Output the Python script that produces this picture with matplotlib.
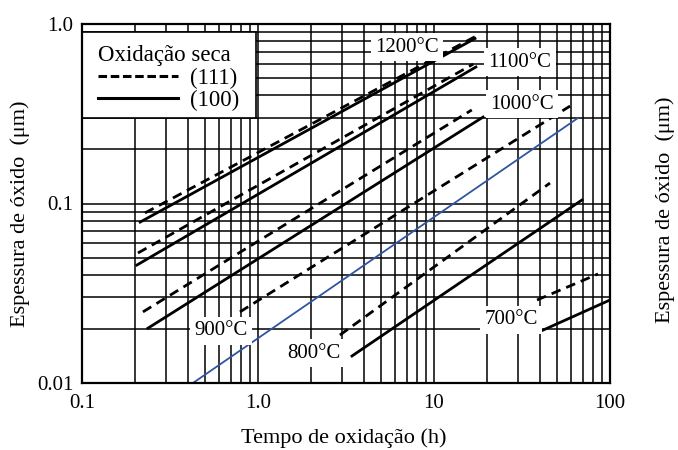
import matplotlib
matplotlib.use("Agg")
import matplotlib.pyplot as plt
from matplotlib.lines import Line2D
from matplotlib.patches import Rectangle
from matplotlib.ticker import FixedLocator, FixedFormatter, LogLocator, NullFormatter

plt.rcParams['font.family'] = ['Liberation Serif', 'DejaVu Serif']

# ---- data ----
temps = ['1200°C', '1100°C', '1000°C', '900°C', '800°C', '700°C']
# (111) dashed lines: (start, end)
time_111 = [(0.228, 17.1), (0.208, 16.7), (0.222, 16.4), (0.79, 59.3), (2.92, 45.6), (38.5, 85.5)]
thick_111 = [(0.0886, 0.85), (0.053, 0.598), (0.0249, 0.332), (0.0249, 0.349), (0.0185, 0.130), (0.029, 0.0405)]
# (100) solid lines: (start, end)
time_100 = [(0.214, 17.1), (0.205, 17.3), (0.237, 19.0), (0.427, 65.8), (3.42, 69.3), (41.6, 100.0)]
thick_100 = [(0.0788, 0.83), (0.0454, 0.576), (0.0202, 0.303), (0.01, 0.2995), (0.01414, 0.1046), (0.0197, 0.029)]
# temperature label positions (time, thickness)
label_x = [7.0, 30.8, 31.6, 0.616, 2.08, 27.4]
label_y = [0.744, 0.614, 0.358, 0.0195, 0.01469, 0.02244]

xticks = [0.1, 1.0, 10, 100]
xticklabels = ['0.1', '1.0', '10', '100']
yticks = [0.01, 0.1, 1.0]
yticklabels = ['0.01', '0.1', '1.0']

fig = plt.figure(figsize=(6.78, 4.5), dpi=100)
ax = fig.add_axes([82/678, 1-383/450, (610-82)/678, (383-24)/450])
ax.set_xscale('log')
ax.set_yscale('log')
ax.set_xlim(0.1, 100)
ax.set_ylim(0.01, 1.0)

ax.xaxis.set_major_locator(FixedLocator(xticks))
ax.xaxis.set_major_formatter(FixedFormatter(xticklabels))
ax.yaxis.set_major_locator(FixedLocator(yticks))
ax.yaxis.set_major_formatter(FixedFormatter(yticklabels))
ax.xaxis.set_minor_locator(LogLocator(base=10, subs=range(2, 10)))
ax.yaxis.set_minor_locator(LogLocator(base=10, subs=range(2, 10)))
ax.xaxis.set_minor_formatter(NullFormatter())
ax.yaxis.set_minor_formatter(NullFormatter())
ax.tick_params(which='both', length=0)
ax.tick_params(axis='x', pad=8, labelsize=15)
ax.tick_params(axis='y', pad=6, labelsize=15)
ax.grid(True, which='both', color='black', lw=1.1, zorder=1)
ax.set_axisbelow(True)
for s in ax.spines.values():
    s.set_linewidth(1.6)
    s.set_zorder(6)

for i in range(len(temps)):
    ax.plot(time_111[i], thick_111[i], color='black', lw=2.0, ls=(0, (3.5, 2.2)),
            solid_capstyle='butt', dash_capstyle='butt', zorder=4)
    color = '#2f55a0' if temps[i] == '900°C' else 'black'
    lw = 1.3 if temps[i] == '900°C' else 2.0
    ax.plot(time_100[i], thick_100[i], color=color, lw=lw, zorder=4)

for i, t in enumerate(temps):
    ax.text(label_x[i], label_y[i], t, fontsize=15, ha='center', va='center', zorder=5,
            bbox=dict(facecolor='white', edgecolor='none', pad=3))

# legend box
ax.add_patch(Rectangle((0.1, 0.3), 0.98 - 0.1, 0.9 - 0.3, facecolor='white',
                       edgecolor='black', lw=1.2, zorder=3))
handles = [Line2D([], [], color='black', lw=2.2, ls=(0, (2.8, 1.2))),
           Line2D([], [], color='black', lw=2.2)]
leg = ax.legend(handles, ['(111)', '(100)'], title='Oxidação seca', loc='upper left',
                bbox_to_anchor=(0.0, 0.985), frameon=False, fontsize=16.5,
                title_fontsize=16.5, handlelength=3.5, handletextpad=0.5,
                labelspacing=0.05, borderpad=0.2, alignment='left')
leg.set_zorder(7)

ax.set_xlabel('Tempo de oxidação (h)', fontsize=16)
ax.xaxis.set_label_coords((344-82)/528, -(428-383)/359)
ax.set_ylabel('Espessura de óxido  (μm)', fontsize=16)
ax.yaxis.set_label_coords((30-82)/528, (383-214)/359)
fig.text(665/678, 1-210/450, 'Espessura de óxido  (μm)', fontsize=16,
         rotation=90, ha='center', va='center')

fig.savefig('out.png', dpi=100)
